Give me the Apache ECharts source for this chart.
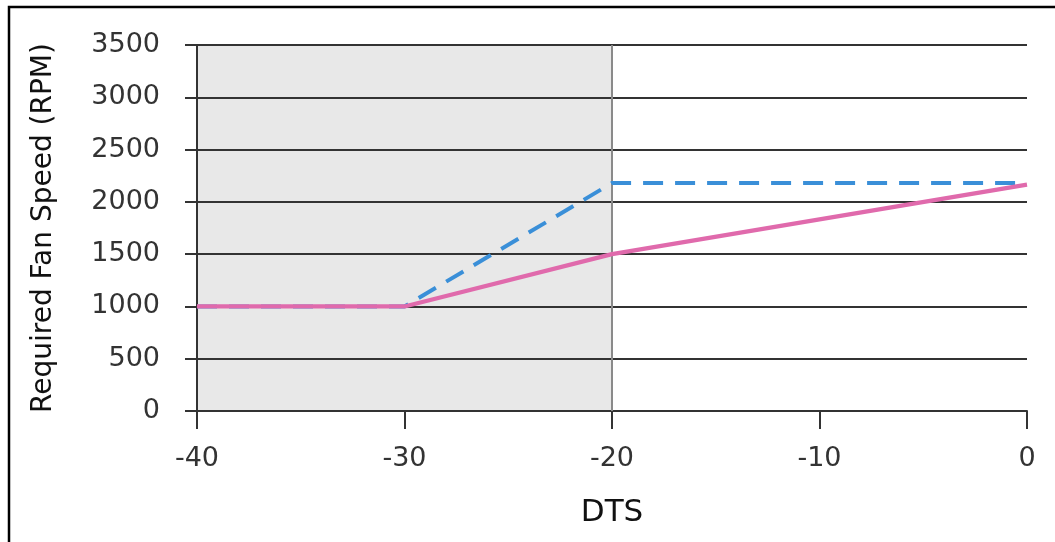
<!DOCTYPE html>
<html>
<head>
<meta charset="utf-8">
<script src="https://cdn.jsdelivr.net/npm/echarts@6/dist/echarts.min.js"></script>
<style>
  html, body { margin: 0; padding: 0; background: #fff; }
  #chart { width: 1055px; height: 542px; }
</style>
</head>
<body>
<div id="chart"></div>
<script>
// Fan speed curves against DTS
const dtsPoints = [-40, -30, -20, 0];
const maxSpeed = [1000, 1000, 2180, 2180];   // dashed blue
const minSpeed = [1000, 1000, 1500, 2165];   // solid pink
const xTicks = [-40, -30, -20, -10, 0];
const yTicks = [0, 500, 1000, 1500, 2000, 2500, 3000, 3500];
const shadedRange = [-40, -20];

const FONT = 'DejaVu Sans';
const chart = echarts.init(document.getElementById('chart'), null, { renderer: 'canvas' });

chart.setOption({
  animation: false,
  backgroundColor: '#fff',
  graphic: [{
    type: 'polyline',
    shape: { points: [[9, 542], [9, 7], [1055, 7]] },
    style: { stroke: '#000', lineWidth: 2.5, fill: null }
  }],
  grid: { show: false, borderWidth: 0, left: 197, right: 28, top: 45, bottom: 131 },
  xAxis: {
    type: 'value',
    z: 3,
    min: xTicks[0], max: xTicks[xTicks.length - 1], interval: 10,
    name: 'DTS', nameLocation: 'middle', nameGap: 86,
    nameTextStyle: { fontFamily: FONT, fontSize: 31, color: '#111' },
    axisLine: { show: true, onZero: false, lineStyle: { color: '#333', width: 2 } },
    axisTick: { show: true, length: 18, lineStyle: { color: '#333', width: 2 } },
    axisLabel: { fontFamily: FONT, fontSize: 27, color: '#333', margin: 34 },
    splitLine: { show: false }
  },
  yAxis: {
    type: 'value',
    z: 3,
    min: yTicks[0], max: yTicks[yTicks.length - 1], interval: 500,
    name: 'Required Fan Speed (RPM)', nameLocation: 'middle', nameGap: 139,
    nameTextStyle: { fontFamily: FONT, fontSize: 28, color: '#111' },
    axisLine: { show: true, onZero: false, lineStyle: { color: '#333', width: 2 } },
    axisTick: { show: true, length: 12, lineStyle: { color: '#333', width: 2 } },
    axisLabel: { fontFamily: FONT, fontSize: 27, color: '#333', margin: 37, formatter: v => String(v) },
    splitLine: { show: true, lineStyle: { color: '#333', width: 2 } }
  },
  series: [
    {
      // shaded band and its boundary, kept beneath the grid lines
      type: 'line',
      data: [],
      z: 1,
      silent: true,
      markArea: {
        silent: true,
        itemStyle: { color: '#e8e8e8' },
        data: [[{ xAxis: shadedRange[0], yAxis: yTicks[0] }, { xAxis: shadedRange[1], yAxis: yTicks[yTicks.length - 1] }]]
      },
      markLine: {
        silent: true, symbol: 'none', label: { show: false },
        lineStyle: { color: '#8a8a8a', width: 2, type: 'solid' },
        data: [{ xAxis: shadedRange[1] }]
      }
    },
    {
      type: 'line',
      data: dtsPoints.map((x, i) => [x, maxSpeed[i]]),
      symbol: 'none',
      z: 5,
      lineStyle: { color: '#3a8fd8', width: 4, type: [20, 12] }
    },
    {
      type: 'line',
      data: dtsPoints.map((x, i) => [x, minSpeed[i]]),
      symbol: 'none',
      z: 6,
      lineStyle: { color: '#e06aac', width: 4.2 }
    }
  ]
});
</script>
</body>
</html>
